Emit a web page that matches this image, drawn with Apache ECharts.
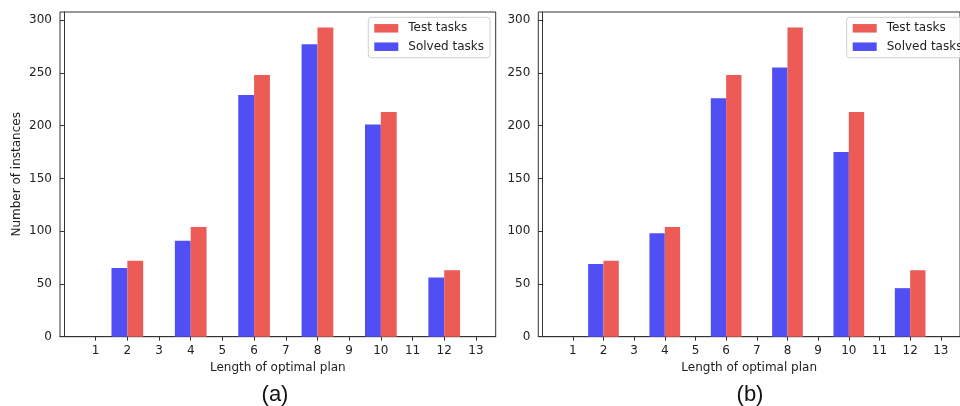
<!DOCTYPE html>
<html>
<head>
<meta charset="utf-8">
<script src="https://cdn.jsdelivr.net/npm/echarts@6/dist/echarts.min.js"></script>
<style>
  html, body { margin: 0; padding: 0; background: #fff; }
  #chart { width: 960px; height: 406px; }
</style>
</head>
<body>
<div id="chart"></div>
<script>
// Optimal plan lengths that have tasks, and task counts per length
const planLengths = [2, 4, 6, 8, 10, 12];
const testTasks = [72, 104, 248, 293, 213, 63];
const solvedTasksA = [65, 91, 229, 277, 201, 56];
const solvedTasksB = [69, 98, 226, 255, 175, 46];

// Tick labels for both axes
const xTicks = [1, 2, 3, 4, 5, 6, 7, 8, 9, 10, 11, 12, 13];
const yTicks = [0, 50, 100, 150, 200, 250, 300];

const panelLabels = ['(a)', '(b)'];

const RED = '#ec5b56';
const BLUE = '#4f4ff4';
const FONT = 'DejaVu Sans';

function pairs(values) {
  return planLengths.map((x, i) => [x, values[i]]);
}

// Each bar is half a unit wide; solved sits left of the length, test sits right
function barRenderer(offset) {
  return function (params, api) {
    const x = api.value(0);
    const y = api.value(1);
    const topLeft = api.coord([x + offset - 0.25, y]);
    const bottomRight = api.coord([x + offset + 0.25, 0]);
    return {
      type: 'rect',
      shape: {
        x: topLeft[0],
        y: topLeft[1],
        width: bottomRight[0] - topLeft[0],
        height: bottomRight[1] - topLeft[1]
      },
      style: api.style()
    };
  };
}

const grids = [
  { left: 60, top: 12, width: 435.7, height: 324.7 },
  { left: 538.3, top: 12, width: 435.5, height: 324.7 }
];

function xAxisFor(i) {
  return {
    type: 'value',
    gridIndex: i,
    min: -0.125,
    max: 13.625,
    name: 'Length of optimal plan',
    nameLocation: 'middle',
    nameGap: 25,
    nameTextStyle: { fontFamily: FONT, fontSize: 12, color: '#222' },
    axisLine: { show: true, lineStyle: { color: '#333', width: 1 } },
    axisTick: { show: true, inside: false, length: 4, customValues: xTicks, lineStyle: { color: '#333' } },
    axisLabel: { customValues: xTicks, margin: 8, fontFamily: FONT, fontSize: 12, color: '#222' },
    splitLine: { show: false }
  };
}

function yAxisFor(i) {
  return {
    type: 'value',
    gridIndex: i,
    min: 0,
    max: 307.65,
    name: i === 0 ? 'Number of instances' : '',
    nameLocation: 'middle',
    nameGap: 37,
    nameTextStyle: { fontFamily: FONT, fontSize: 12, color: '#222' },
    axisLine: { show: true, lineStyle: { color: '#333', width: 1 } },
    axisTick: { show: true, inside: false, length: 4, customValues: yTicks, lineStyle: { color: '#333' } },
    axisLabel: { customValues: yTicks, margin: 8, fontFamily: FONT, fontSize: 12, color: '#222' },
    splitLine: { show: false }
  };
}

function legendFor(left) {
  return {
    orient: 'vertical',
    left: left,
    top: 17.3,
    data: ['Test tasks', 'Solved tasks'],
    icon: 'rect',
    itemWidth: 24,
    itemHeight: 8.5,
    itemGap: 4.4,
    padding: [4, 6, 4, 6],
    borderColor: '#d0d0d0',
    borderWidth: 1,
    borderRadius: 3,
    backgroundColor: 'rgba(255,255,255,0.8)',
    selectedMode: false,
    textStyle: { fontFamily: FONT, fontSize: 12, color: '#222', lineHeight: 14, padding: [0, 0, 0, 5] }
  };
}

const solvedSets = [solvedTasksA, solvedTasksB];
const series = [];
[0, 1].forEach(i => {
  series.push({
    type: 'custom',
    name: 'Solved tasks',
    xAxisIndex: i,
    yAxisIndex: i,
    renderItem: barRenderer(-0.25),
    itemStyle: { color: BLUE },
    data: pairs(solvedSets[i])
  });
  series.push({
    type: 'custom',
    name: 'Test tasks',
    xAxisIndex: i,
    yAxisIndex: i,
    renderItem: barRenderer(0.25),
    itemStyle: { color: RED },
    data: pairs(testTasks)
  });
});

const chart = echarts.init(document.getElementById('chart'), null, { renderer: 'canvas' });
chart.setOption({
  animation: false,
  backgroundColor: '#fff',
  grid: grids.map(g => Object.assign({ show: true, borderColor: '#333', borderWidth: 1, backgroundColor: 'transparent', containLabel: false }, g)),
  xAxis: [xAxisFor(0), xAxisFor(1)],
  yAxis: [yAxisFor(0), yAxisFor(1)],
  legend: [legendFor(368.3), legendFor(846.7)],
  series: series,
  graphic: panelLabels.map((t, i) => ({
    type: 'text',
    x: i === 0 ? 275 : 750,
    y: 395,
    style: {
      text: t,
      fontFamily: 'Liberation Sans',
      fontSize: 22,
      fill: '#111',
      align: 'center',
      verticalAlign: 'middle'
    }
  }))
});
</script>
</body>
</html>
